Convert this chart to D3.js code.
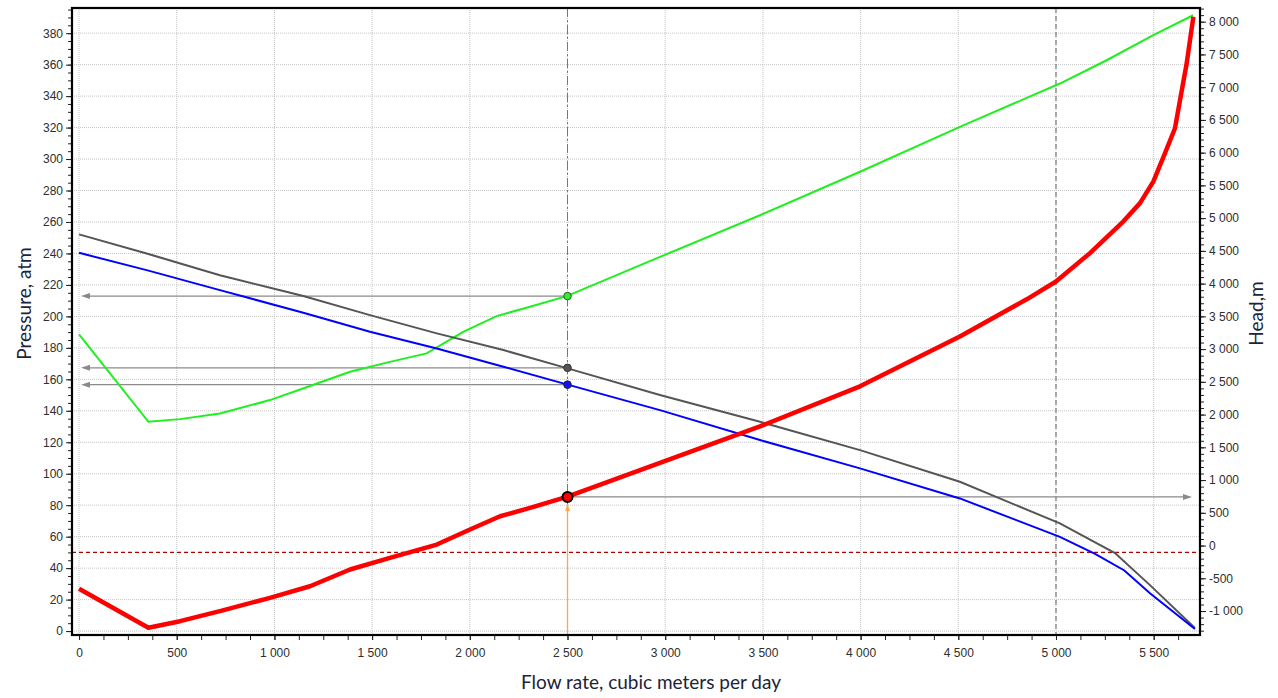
<!DOCTYPE html>
<html><head><meta charset="utf-8">
<script src="https://cdn.jsdelivr.net/npm/d3@7"></script>
<style>
body{margin:0;background:#fff;}
svg{display:block;}
.tick text{font-family:"Liberation Sans",Arial,sans-serif;font-size:12px;fill:#2e2e2e;}
.title{font-family:Lato,"Open Sans",sans-serif;font-size:19px;fill:#1b2438;}
</style>
</head><body>
<svg id="c" width="1278" height="698"></svg>
<script>
// ---- data ----
const grayFlow = [0, 346, 721, 1148, 1489, 1831, 2172, 2496, 2973, 3485, 3997, 4508, 5020, 5302, 5481, 5711];
const grayPressure = [252.1, 240.0, 226.2, 212.9, 200.8, 189.2, 178.6, 167.1, 150.0, 133.0, 115.0, 94.9, 68.4, 49.6, 29.2, 1.9];

const blueFlow = [0, 346, 721, 1148, 1489, 1831, 2172, 2496, 2973, 3485, 3997, 4508, 5020, 5200, 5350, 5481, 5711];
const bluePressure = [240.4, 229.4, 216.7, 202.3, 190.2, 179.6, 168.0, 156.8, 140.4, 121.4, 103.4, 84.3, 59.9, 49.0, 38.5, 24.0, 1.3];

const greenFlow = [0, 355, 517, 721, 977, 1146, 1387, 1591, 1779, 1966, 2137, 2308, 2496, 2973, 3485, 3997, 4508, 5020, 5259, 5498, 5702];
const greenPressure = [188.5, 133.0, 134.7, 138.3, 146.8, 154.2, 164.8, 171.1, 176.5, 190.2, 200.2, 206.1, 212.9, 237.8, 264.3, 291.9, 320.5, 348.0, 362.8, 378.7, 391.4];

const redFlow = [0, 355, 517, 721, 977, 1182, 1387, 1591, 1831, 2001, 2155, 2308, 2496, 2973, 3485, 3997, 4508, 4850, 5000, 5174, 5344, 5430, 5498, 5558, 5609, 5635, 5669, 5703];
const redHead = [-661, -1256, -1155, -1002, -798, -621, -366, -188, 15, 244, 447, 575, 743, 1262, 1820, 2431, 3193, 3760, 4033, 4466, 4948, 5229, 5558, 5992, 6373, 6805, 7365, 8076];

const operatingFlow = 2500;
const opGrayPressure = 167.3;
const opBluePressure = 156.6;
const opGreenPressure = 212.9;
const opRedHead = 743;
const limitFlow = 5000;
const limitPressure = 50;

const xTicks = [0, 500, 1000, 1500, 2000, 2500, 3000, 3500, 4000, 4500, 5000, 5500];
const leftTicks = [0, 20, 40, 60, 80, 100, 120, 140, 160, 180, 200, 220, 240, 260, 280, 300, 320, 340, 360, 380];
const rightTicks = [-1000, -500, 0, 500, 1000, 1500, 2000, 2500, 3000, 3500, 4000, 4500, 5000, 5500, 6000, 6500, 7000, 7500, 8000];

// ---- layout ----
const L = 72, R = 1200, T = 8, B = 635;
const svg = d3.select("#c");
const x = d3.scaleLinear().domain([-36, 5737]).range([L, R]);
const yL = d3.scaleLinear().domain([-2.5, 396]).range([B, T]);
const yR = d3.scaleLinear().domain([-1366, 8209]).range([B, T]);

const loc = d3.formatLocale({decimal: ".", thousands: " ", grouping: [3], currency: ["", ""], minus: "-"});
const fmt = loc.format(",d");

// defs
const defs = svg.append("defs");
defs.append("marker").attr("id", "arrL").attr("viewBox", "0 -5 10 10").attr("refX", 0).attr("refY", 0)
  .attr("markerWidth", 10).attr("markerHeight", 10).attr("markerUnits", "userSpaceOnUse").attr("orient", "auto-start-reverse")
  .append("path").attr("d", "M0,-3L9,0L0,3Z").attr("fill", "#8a8a8a");
defs.append("marker").attr("id", "arrO").attr("viewBox", "0 -5 10 10").attr("refX", 9).attr("refY", 0)
  .attr("markerWidth", 8).attr("markerHeight", 8).attr("markerUnits", "userSpaceOnUse").attr("orient", "auto")
  .append("path").attr("d", "M0,-3L9,0L0,3Z").attr("fill", "#ffa64d");

// grid
const grid = svg.append("g");
grid.selectAll("line.gx").data(xTicks).join("line")
  .attr("x1", d => x(d)).attr("x2", d => x(d)).attr("y1", T).attr("y2", B)
  .attr("stroke", "#c4c4c4").attr("stroke-width", 1).attr("stroke-dasharray", "1,1");
grid.selectAll("line.gy").data(leftTicks).join("line")
  .attr("x1", L).attr("x2", R).attr("y1", d => yL(d)).attr("y2", d => yL(d))
  .attr("stroke", "#c4c4c4").attr("stroke-width", 1).attr("stroke-dasharray", "1,1");

// reference lines
svg.append("line").attr("x1", x(limitFlow)).attr("x2", x(limitFlow)).attr("y1", T).attr("y2", B)
  .attr("stroke", "#666").attr("stroke-width", 1).attr("stroke-dasharray", "5,3");
svg.append("line").attr("x1", x(operatingFlow)).attr("x2", x(operatingFlow)).attr("y1", T).attr("y2", B)
  .attr("stroke", "#777").attr("stroke-width", 1).attr("stroke-dasharray", "9,3,2,3");
svg.append("line").attr("x1", L).attr("x2", R).attr("y1", yL(limitPressure)).attr("y2", yL(limitPressure))
  .attr("stroke", "#b00000").attr("stroke-width", 1.3).attr("stroke-dasharray", "4,3");

// projection arrows
const tipL = x.range()[0] + 9;
[opGreenPressure, opGrayPressure, opBluePressure].forEach(v => {
  svg.append("line").attr("x1", x(operatingFlow)).attr("x2", tipL + 9).attr("y1", yL(v)).attr("y2", yL(v))
    .attr("stroke", "#8a8a8a").attr("stroke-width", 1.3).attr("marker-end", "url(#arrL)");
});
svg.append("line").attr("x1", x(operatingFlow)).attr("x2", x.range()[1] - 17).attr("y1", yR(opRedHead)).attr("y2", yR(opRedHead))
  .attr("stroke", "#8a8a8a").attr("stroke-width", 1.3).attr("marker-end", "url(#arrL)");
svg.append("line").attr("x1", x(operatingFlow)).attr("x2", x(operatingFlow)).attr("y1", B).attr("y2", yR(opRedHead) + 7)
  .attr("stroke", "#ffa64d").attr("stroke-width", 1.3).attr("marker-end", "url(#arrO)");

// series
const lineL = (fx, fy) => d3.line().x((d, i) => x(fx[i])).y(d => yL(d))(fy);
const lineR = (fx, fy) => d3.line().x((d, i) => x(fx[i])).y(d => yR(d))(fy);
svg.append("path").attr("d", lineL(greenFlow, greenPressure)).attr("fill", "none").attr("stroke", "#1ef01e").attr("stroke-width", 2);
svg.append("path").attr("d", lineL(grayFlow, grayPressure)).attr("fill", "none").attr("stroke", "#555").attr("stroke-width", 2);
svg.append("path").attr("d", lineL(blueFlow, bluePressure)).attr("fill", "none").attr("stroke", "#0000ff").attr("stroke-width", 2);
svg.append("path").attr("d", lineR(redFlow, redHead)).attr("fill", "none").attr("stroke", "#ff0000").attr("stroke-width", 4.5).attr("stroke-linejoin", "round");

// markers
svg.append("circle").attr("cx", x(operatingFlow)).attr("cy", yL(opGreenPressure)).attr("r", 3.8).attr("fill", "#2ef02e").attr("stroke", "#2a5a2a").attr("stroke-width", 1);
svg.append("circle").attr("cx", x(operatingFlow)).attr("cy", yL(opGrayPressure)).attr("r", 3.8).attr("fill", "#555").attr("stroke", "#333").attr("stroke-width", 1);
svg.append("circle").attr("cx", x(operatingFlow)).attr("cy", yL(opBluePressure)).attr("r", 3.8).attr("fill", "#1010ff").attr("stroke", "#223").attr("stroke-width", 1);
svg.append("circle").attr("cx", x(operatingFlow)).attr("cy", yR(opRedHead)).attr("r", 5).attr("fill", "#ff0000").attr("stroke", "#000").attr("stroke-width", 2);

// frame
svg.append("rect").attr("x", L).attr("y", T).attr("width", R - L).attr("height", B - T)
  .attr("fill", "none").attr("stroke", "#000").attr("stroke-width", 2.2);

// axes
svg.append("g").attr("transform", `translate(0,${B + 1})`)
  .call(d3.axisBottom(x).tickValues(xTicks).tickFormat(fmt).tickSize(4).tickPadding(8));
svg.append("g").attr("transform", `translate(0,${B + 1})`)
  .call(d3.axisBottom(x).tickValues(d3.range(0, 5737, 125)).tickFormat("").tickSize(4));
svg.append("g").attr("transform", `translate(${L - 1},0)`)
  .call(d3.axisLeft(yL).tickValues(leftTicks).tickFormat(d3.format("d")).tickSize(5).tickPadding(3));
svg.append("g").attr("transform", `translate(${L - 1},0)`)
  .call(d3.axisLeft(yL).tickValues(d3.range(0, 396, 5)).tickFormat("").tickSize(3));
svg.append("g").attr("transform", `translate(${R + 1},0)`)
  .call(d3.axisRight(yR).tickValues(rightTicks).tickFormat(fmt).tickSize(5).tickPadding(3));
svg.append("g").attr("transform", `translate(${R + 1},0)`)
  .call(d3.axisRight(yR).tickValues(d3.range(-1300, 8209, 100)).tickFormat("").tickSize(3));
svg.selectAll(".domain").remove();
svg.selectAll(".tick line").attr("stroke", "#222");

// titles
svg.append("text").attr("class", "title").attr("text-anchor", "middle")
  .attr("transform", `translate(31,${(T + B) / 2 - 18}) rotate(-90)`).text("Pressure, atm");
svg.append("text").attr("class", "title").attr("text-anchor", "middle")
  .attr("transform", `translate(1263,${(T + B) / 2 - 8}) rotate(-90)`).text("Head,m");
svg.append("text").attr("class", "title").attr("text-anchor", "middle")
  .attr("x", (L + R) / 2 + 15).attr("y", 689).text("Flow rate, cubic meters per day");
</script>
</body></html>
